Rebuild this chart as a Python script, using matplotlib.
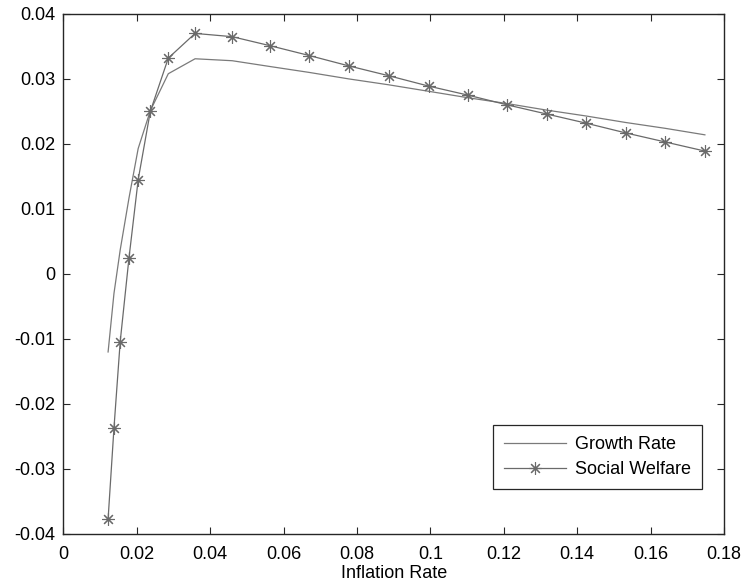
import numpy as np
import matplotlib
matplotlib.use('Agg')
import matplotlib.pyplot as plt

plt.rcParams['font.family'] = ['Liberation Sans', 'DejaVu Sans']

# data
inflation = [0.0122, 0.0138, 0.0155, 0.0179, 0.0204, 0.0237, 0.0286, 0.0359,
             0.0460, 0.0564, 0.0670, 0.0778, 0.0886, 0.0995, 0.1103, 0.1210,
             0.1317, 0.1424, 0.1532, 0.1640, 0.1748]
growth_rate = [-0.0120, -0.0030, 0.0037, 0.0117, 0.0193, 0.0251, 0.0308, 0.0331,
               0.0328, 0.0319, 0.0310, 0.0300, 0.0291, 0.0281, 0.0271, 0.0262,
               0.0252, 0.0243, 0.0233, 0.0224, 0.0214]
social_welfare = [-0.0377, -0.0237, -0.0104, 0.0025, 0.0145, 0.0250, 0.0332, 0.0370,
                  0.0365, 0.0351, 0.0336, 0.0320, 0.0305, 0.0289, 0.0275, 0.0260,
                  0.0246, 0.0232, 0.0217, 0.0203, 0.0189]
x_ticks = [0, 0.02, 0.04, 0.06, 0.08, 0.1, 0.12, 0.14, 0.16, 0.18]
x_ticklabels = ['0', '0.02', '0.04', '0.06', '0.08', '0.1', '0.12', '0.14', '0.16', '0.18']
y_ticks = [-0.04, -0.03, -0.02, -0.01, 0, 0.01, 0.02, 0.03, 0.04]
y_ticklabels = ['-0.04', '-0.03', '-0.02', '-0.01', '0', '0.01', '0.02', '0.03', '0.04']

axis_col = '#262626'
fs = 13

fig = plt.figure(figsize=(7.44, 5.87), dpi=100)
ax = fig.add_axes([0.0851, 0.0903, 0.888, 0.886])

ax.plot(inflation, growth_rate, color='#7a7a7a', lw=0.9, label='Growth Rate')
ax.plot(inflation, social_welfare, color='#6a6a6a', lw=0.9, marker=(8, 2, 0),
        markersize=9, markeredgewidth=0.8, label='Social Welfare')

ax.set_xlim(0, 0.18)
ax.set_ylim(-0.04, 0.04)
ax.set_xticks(x_ticks)
ax.set_xticklabels(x_ticklabels)
ax.set_yticks(y_ticks)
ax.set_yticklabels(y_ticklabels)
ax.tick_params(direction='in', length=5, width=0.8, color=axis_col,
               top=True, right=True, labelsize=fs)
ax.tick_params(axis='x', pad=9)
ax.tick_params(axis='y', pad=6)
for s in ax.spines.values():
    s.set_color(axis_col)
    s.set_linewidth(1.0)

ax.set_xlabel('Inflation Rate', fontsize=fs, labelpad=1)

leg = ax.legend(loc='lower right', bbox_to_anchor=(0.966, 0.0865), borderaxespad=0,
                fancybox=False, fontsize=fs, handlelength=3.4, handletextpad=0.5,
                borderpad=0.6, labelspacing=0.45, framealpha=1)
leg.get_frame().set_edgecolor(axis_col)
leg.get_frame().set_linewidth(0.9)

plt.savefig('out.png', dpi=100)
